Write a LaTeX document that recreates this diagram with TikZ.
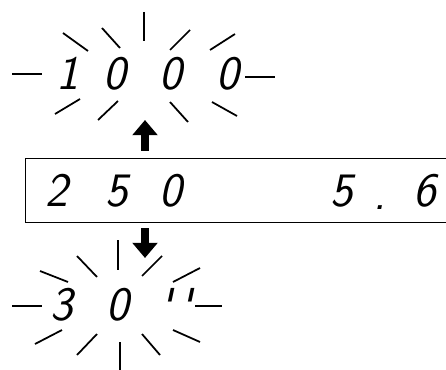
\documentclass[tikz,border=0pt]{standalone}
\usetikzlibrary{arrows.meta}

\begin{document}
\begin{tikzpicture}[x=0.03cm, y=-0.03cm,
    ray/.style={line width=1.5pt},
    lcd/.style={inner sep=0pt, anchor=base, font=\fontsize{41}{41}\selectfont\sffamily\itshape},
    flag/.style={line width=6pt, -{Triangle[width=21pt,length=13pt]}}]
    \useasboundingbox (0,0) rectangle (446,370);

    % Display window, runs off the right edge
    \node[draw, line width=1.2pt, minimum width=12.9cm, minimum height=1.92cm,
          inner sep=0pt, anchor=north west] (disp) at (25,158) {};

    % Readout in the window
    \node[lcd] (dA) at (57,207) {2};
    \node[lcd] (dB) at (117,207) {5};
    \node[lcd] (dC) at (171,207) {0};
    \node[lcd] (dF) at (342,207) {5};
    \node[lcd] (dP) at (380,209) {.};
    \node[lcd] (dG) at (425,207) {6};

    % Blinking shutter value
    \node[lcd] (sA) at (68,90) {1};
    \node[lcd] (sB) at (115,90) {0};
    \node[lcd] (sC) at (171,90) {0};
    \node[lcd] (sD) at (228,90) {0};

    % Blinking long time value
    \node[lcd] (tA) at (62,320) {3};
    \node[lcd] (tB) at (118,320) {0};
    \node[lcd] (tC) at (176,322) {\textquotesingle\,\textquotesingle};

    % Rays round the upper value
    \foreach \xa/\ya/\xb/\yb in {12/74/42/74, 245/77/275/77, 144/12/144/41,
        63/33/88/51, 102/28/120/48, 170/50/190/30, 210/50/235/34,
        55/114/80/99, 98/120/118/101, 170/102/188/122, 212/102/237/116}
        \draw[ray] (\xa,\ya) -- (\xb,\yb);

    % Rays round the lower value
    \foreach \xa/\ya/\xb/\yb in {12/306/42/306, 195/306/222/306, 118/240/118/270,
        77/256/97/277, 40/271/68/282, 142/276/162/256, 173/282/200/268,
        35/344/62/330, 77/355/97/334, 120/342/120/372,
        142/334/160/355, 173/330/200/342}
        \draw[ray] (\xa,\ya) -- (\xb,\yb);

    % Arrows out of the window
    \coordinate (upBase) at (145,151);
    \coordinate (upTip) at (145,120);
    \coordinate (downBase) at (145,228);
    \coordinate (downTip) at (145,258);
    \draw[flag] (upBase) -- (upTip);
    \draw[flag] (downBase) -- (downTip);

\end{tikzpicture}
\end{document}
